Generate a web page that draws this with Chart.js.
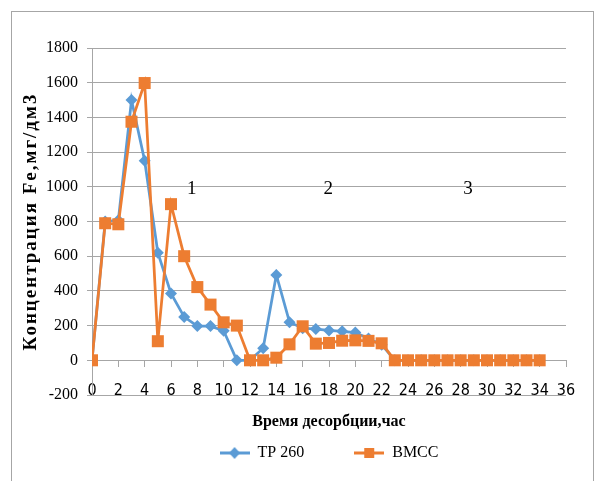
<!DOCTYPE html>
<html>
<head>
<meta charset="utf-8">
<script src="https://cdn.jsdelivr.net/npm/chart.js@4/dist/chart.umd.min.js"></script>
<style>
  html, body { margin: 0; padding: 0; background: #fff; }
  #wrap { width: 595px; height: 481px; position: relative; }
</style>
</head>
<body>
<div id="wrap"><canvas id="c" width="595" height="481"></canvas></div>
<script>
// ---- data ----
const hours = [0,1,2,3,4,5,6,7,8,9,10,11,12,13,14,15,16,17,18,19,20,21,22,23,24,25,26,27,28,29,30,31,32,33,34];
const tp260 = [0,800,807,1500,1150,620,385,250,197,197,170,0,0,70,492,220,185,180,172,167,160,125,90,0,0,0,0,0,0,0,0,0,0,0,0];
const bmcc  = [0,790,784,1375,1598,110,900,600,422,321,219,200,0,0,15,92,196,96,100,113,115,112,98,0,0,0,0,0,0,0,0,0,0,0,0];
const seriesNames = ['TP 260', 'BMCC'];
const zoneLabels = ['1', '2', '3'];
const zoneX = [7.57, 17.94, 28.56];
const zoneY = [990, 990, 990];
const xTitle = 'Время десорбции,час';
const yTitle = 'Концентрация Fe,мг/дм3';

const BLUE = '#5B9BD5';
const ORANGE = '#ED7D31';
const GRID = '#a6a6a6';

function legendImage(color, shape) {
  const c = document.createElement('canvas');
  c.width = 30; c.height = 14;
  const g = c.getContext('2d');
  g.strokeStyle = color; g.lineWidth = 3;
  g.beginPath(); g.moveTo(0, 7); g.lineTo(30, 7); g.stroke();
  g.fillStyle = color;
  g.beginPath();
  if (shape === 'diamond') {
    g.moveTo(15, 1); g.lineTo(20.5, 7); g.lineTo(15, 13); g.lineTo(9.5, 7); g.closePath();
  } else {
    g.rect(10, 2, 10, 10);
  }
  g.fill();
  return c;
}

const frame = {
  id: 'frame',
  beforeDraw(chart) {
    const ctx = chart.ctx;
    ctx.save();
    ctx.strokeStyle = GRID;
    ctx.lineWidth = 1;
    ctx.strokeRect(11.5, 11.5, 582, 520);
    ctx.restore();
  },
  afterDatasetsDraw(chart) {
    const ctx = chart.ctx;
    const xs = chart.scales.x, ys = chart.scales.y;
    ctx.save();
    ctx.fillStyle = '#000';
    ctx.font = '19px "Liberation Serif", "Times New Roman", serif';
    ctx.textAlign = 'center';
    ctx.textBaseline = 'middle';
    zoneLabels.forEach((t, i) => {
      ctx.fillText(t, xs.getPixelForValue(zoneX[i]), ys.getPixelForValue(zoneY[i]));
    });
    ctx.restore();
  }
};

new Chart(document.getElementById('c'), {
  type: 'line',
  data: {
    datasets: [
      {
        label: seriesNames[0],
        data: hours.map((h, i) => ({x: h, y: tp260[i]})),
        borderColor: BLUE, backgroundColor: BLUE,
        borderWidth: 2.75,
        pointStyle: 'rectRot', pointRadius: 6, pointHoverRadius: 6,
        pointBackgroundColor: BLUE, pointBorderColor: BLUE, pointBorderWidth: 0,
        tension: 0, order: 1
      },
      {
        label: seriesNames[1],
        data: hours.map((h, i) => ({x: h, y: bmcc[i]})),
        borderColor: ORANGE, backgroundColor: ORANGE,
        borderWidth: 2.75,
        pointStyle: 'rect', pointRadius: 8.5, pointHoverRadius: 8.5,
        pointBackgroundColor: ORANGE, pointBorderColor: ORANGE, pointBorderWidth: 0,
        tension: 0, order: 0
      }
    ]
  },
  options: {
    responsive: false,
    animation: false,
    events: [],
    layout: { padding: { left: 0, right: 29, top: 48, bottom: 10 } },
    plugins: {
      tooltip: { enabled: false },
      legend: {
        position: 'bottom',
        fullSize: false,
        labels: {
          usePointStyle: true,
          pointStyleWidth: 30,
          padding: 50,
          color: '#000',
          font: { family: '"Liberation Serif", "Times New Roman", serif', size: 16 },
          sort: (a, b) => a.datasetIndex - b.datasetIndex,
          generateLabels(chart) {
            return chart.data.datasets.map((ds, i) => ({
              text: ds.label,
              datasetIndex: i,
              pointStyle: legendImage(ds.borderColor, i === 0 ? 'diamond' : 'square'),
              fillStyle: ds.borderColor,
              strokeStyle: ds.borderColor,
              lineWidth: 0,
              fontColor: '#000',
              hidden: false
            }));
          }
        }
      }
    },
    scales: {
      x: {
        type: 'linear',
        position: { y: 0 },
        min: 0, max: 36,
        ticks: {
          stepSize: 2,
          padding: 15,
          color: '#000',
          callback: (v) => String(v),
          font: { family: '"Liberation Sans Narrow", "DejaVu Sans Condensed", "Liberation Sans", sans-serif', size: 16 }
        },
        grid: { drawOnChartArea: false, drawTicks: true, tickLength: 6, color: GRID },
        border: { display: true, color: GRID, width: 1 },
        title: {
          display: true, text: xTitle, color: '#000',
          font: { family: '"Liberation Serif", "Times New Roman", serif', size: 16, weight: 'bold' },
          padding: { top: 0, bottom: 0 }
        },
        afterFit(scale) { scale.height = 71.5; }
      },
      y: {
        type: 'linear',
        position: 'left',
        min: -200, max: 1800,
        ticks: {
          stepSize: 200,
          padding: 9,
          color: '#000',
          callback: (v) => String(v),
          font: { family: '"Liberation Serif", "Times New Roman", serif', size: 16 }
        },
        grid: { color: GRID, tickLength: 5, drawTicks: true },
        border: { display: true, color: GRID, width: 1 },
        title: {
          display: true, text: yTitle, color: '#000',
          font: { family: '"Liberation Serif", "Times New Roman", serif', size: 19, weight: 'bold' },
          padding: { top: 20, bottom: 0 }
        },
        afterFit(scale) {
          scale.width = 92;
          if (!scale._spacedTitle) {
            const orig = scale.drawTitle;
            scale.drawTitle = function () {
              const ctx = this.ctx;
              ctx.save();
              if ('letterSpacing' in ctx) ctx.letterSpacing = '2px';
              orig.call(this);
              ctx.restore();
            };
            scale._spacedTitle = true;
          }
        }
      }
    }
  },
  plugins: [frame]
});
</script>
</body>
</html>
